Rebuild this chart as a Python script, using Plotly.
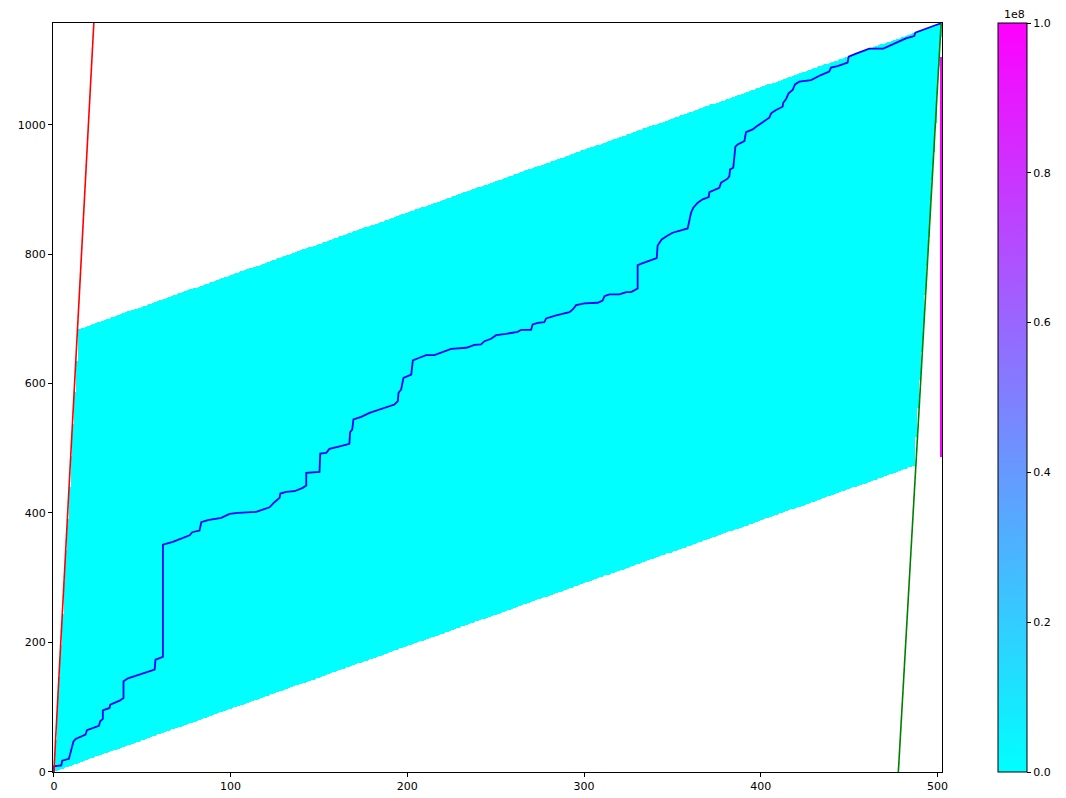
import plotly.graph_objects as go

# Grid size of the accumulated-cost matrix (columns x rows)
n_cols = 503
n_rows = 1158

# Corners of the admissible band (column, row), counter-clockwise
band_x = [0, 487, 502.5, 14]
band_y = [0, 473, 1157.5, 684]
band_cost = 0

# Last column carries a block of saturated costs
edge_col = 502
edge_rows = [487, 1105]
edge_cost = 1e8

# Optimal warping path
path_x = [0, 0, 4.2, 4.7, 8.5, 9.3, 10.4, 11.1, 12.3, 17.9, 18.7, 25.5, 26.2, 27.7, 27.7,
          31.5, 31.9, 37.2, 39.4, 39.4, 41.9, 57.0, 57.5, 61.7, 61.7, 67.3, 76.8, 78.3,
          82.4, 83.4, 87.1, 94.7, 99.4, 104.1, 114.5, 122.0, 124.8, 127.7, 128.1, 131.4,
          136.1, 140.8, 142.8, 142.8, 150.3, 150.7, 154.1, 155.9, 160.6, 167.2, 167.6,
          168.8, 169.5, 173.9, 178.6, 192.7, 194.6, 195.0, 196.5, 197.8, 202.2, 203.1,
          206.8, 210.6, 215.3, 220.0, 224.8, 233.3, 238.0, 241.7, 243.6, 247.4, 250.2,
          255.9, 262.4, 264.4, 270.0, 270.9, 273.8, 277.5, 278.5, 284.2, 291.7, 293.6,
          295.5, 300.2, 307.7, 310.5, 311.5, 314.3, 320.0, 323.8, 326.6, 330.3, 330.3,
          333.2, 341.1, 341.6, 343.9, 347.3, 350.1, 358.6, 359.6, 360.5, 361.8, 364.3,
          367.1, 370.5, 370.9, 376.5, 377.5, 381.2, 382.2, 382.6, 384.4, 385.0, 385.6,
          386.9, 390.7, 391.6, 395.4, 397.3, 402.0, 404.8, 405.8, 408.6, 412.3, 412.7,
          414.2, 415.7, 418.0, 419.3, 421.8, 428.4, 434.0, 438.7, 439.7, 443.4, 449.1,
          449.7, 453.9, 461.4, 469.3, 476.5, 482.1, 486.8, 487.4, 499.1, 502]
path_y = [0, 8.2, 9.8, 17, 20, 27.8, 36.6, 46.9, 50.5, 57.2, 64, 71, 77.8, 81.5, 94.8,
          98.5, 103.6, 109.8, 114, 139.7, 144.3, 157.8, 173.2, 177.4, 351.1, 355.3, 365.5,
          370.2, 372.8, 385.7, 388.8, 392.4, 398.6, 400.2, 401.7, 408.8, 416.6, 423.3, 430,
          432.6, 433.6, 438.8, 442.4, 462, 463.5, 491.9, 492.9, 499.1, 502.2, 506.8, 524.8,
          529, 544.5, 548.6, 554.8, 567.7, 572.8, 585.8, 590.9, 608.9, 614, 635.7, 639.9,
          644, 644, 648.6, 653.8, 655.4, 660, 660.5, 665.6, 669.3, 674.9, 677, 680.1,
          683.2, 683.2, 691.4, 694, 695, 700.7, 705.3, 710.5, 714.6, 721.3, 723.9, 725,
          728.5, 735.2, 737.8, 737.8, 741.4, 741.4, 747.1, 783.2, 786.2, 794, 813.6,
          822.9, 829, 833.2, 839.9, 853.8, 864.1, 871.9, 879.6, 884.8, 888.3, 896.1,
          902.8, 910.6, 916.8, 920.8, 931.2, 933.8, 951.7, 966.2, 969.8, 975, 988.9, 993,
          997.2, 1005.9, 1011.1, 1017.8, 1022.9, 1028.1, 1034.3, 1039.4, 1048.7, 1053.9,
          1062.6, 1066.8, 1069.3, 1077, 1082.3, 1088.5, 1091, 1096.2, 1105.5, 1110.2,
          1117.9, 1117.9, 1127.2, 1133.8, 1137.4, 1142.6, 1154.4, 1157]

# Slope-limit lines
start_line_x = [0, 22.6]
start_line_y = [0, 1157.5]
end_line_x = [477.8, 502]
end_line_y = [-0.5, 1157]

x_ticks = [0, 100, 200, 300, 400, 500]
y_ticks = [0, 200, 400, 600, 800, 1000]
cbar_ticks = [0, 2e7, 4e7, 6e7, 8e7, 1e8]
cbar_labels = ["0.0", "0.2", "0.4", "0.6", "0.8", "1.0"]
cbar_exponent = "1e8"

FONT = "DejaVu Sans"


def inside_band(cx, cy):
    """Point-in-convex-polygon test against the band corners."""
    n = len(band_x)
    for k in range(n):
        x1, y1 = band_x[k], band_y[k]
        x2, y2 = band_x[(k + 1) % n], band_y[(k + 1) % n]
        if (x2 - x1) * (cy - y1) - (y2 - y1) * (cx - x1) < 0:
            return False
    return True


# Cost matrix: finite inside the band, empty (None) outside
z = []
for r in range(n_rows):
    row = []
    for c in range(n_cols):
        if inside_band(c, r):
            row.append(band_cost)
        elif c == edge_col and edge_rows[0] <= r <= edge_rows[1]:
            row.append(edge_cost)
        else:
            row.append(None)
    z.append(row)

cool = [[0.0, "rgb(0,255,255)"], [1.0, "rgb(255,0,255)"]]

fig = go.Figure()

fig.add_trace(go.Heatmap(
    z=z, x0=0, dx=1, y0=0, dy=1,
    colorscale=cool, zmin=0, zmax=1e8,
    hoverinfo="skip",
    colorbar=dict(
        x=(997.5 - 53) / 889, xanchor="left", xref="paper",
        y=0.5, yanchor="middle", len=1, lenmode="fraction",
        thickness=29, thicknessmode="pixels", xpad=0, ypad=0,
        outlinewidth=1, outlinecolor="black",
        ticks="outside", ticklen=4, tickwidth=1, tickcolor="black",
        tickvals=cbar_ticks, ticktext=cbar_labels,
        tickfont=dict(family=FONT, size=11, color="black"),
    ),
))

fig.add_trace(go.Scatter(x=path_x, y=path_y, mode="lines",
                         line=dict(color="blue", width=1.8), hoverinfo="skip",
                         showlegend=False))
fig.add_trace(go.Scatter(x=start_line_x, y=start_line_y, mode="lines",
                         line=dict(color="red", width=1.6), hoverinfo="skip",
                         showlegend=False))
fig.add_trace(go.Scatter(x=end_line_x, y=end_line_y, mode="lines",
                         line=dict(color="green", width=1.6), hoverinfo="skip",
                         showlegend=False))

fig.add_annotation(text=cbar_exponent, xref="paper", yref="paper",
                   x=(1027 - 53) / 889, y=1, xanchor="right", yanchor="bottom",
                   yshift=0, showarrow=False,
                   font=dict(family=FONT, size=11, color="black"))

axis_common = dict(showgrid=False, zeroline=False, showline=True, mirror=True,
                   linecolor="black", linewidth=1, ticks="outside", ticklen=4,
                   tickwidth=1, tickcolor="black",
                   tickfont=dict(family=FONT, size=11, color="black"))

fig.update_xaxes(range=[-0.5, n_cols - 0.5], tickvals=x_ticks, **axis_common)
fig.update_yaxes(range=[-0.5, n_rows - 0.5], tickvals=y_ticks, **axis_common)

fig.update_layout(
    width=1066, height=798,
    margin=dict(l=53, r=124, t=23, b=26, autoexpand=False),
    plot_bgcolor="white", paper_bgcolor="white",
    showlegend=False,
    font=dict(family=FONT, size=11, color="black"),
)

fig.write_html("out.html")
